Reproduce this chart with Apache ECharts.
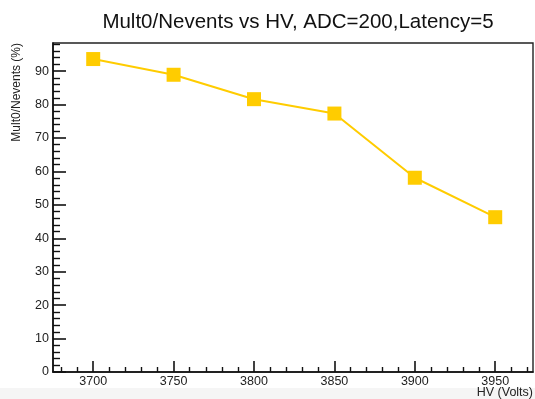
<!DOCTYPE html>
<html>
<head>
<meta charset="utf-8">
<title>Mult0/Nevents vs HV</title>
<script src="https://cdn.jsdelivr.net/npm/echarts@6/dist/echarts.min.js"></script>
<style>
  html, body { margin: 0; padding: 0; background: #ffffff; }
  #chart { width: 535px; height: 399px; }
</style>
</head>
<body>
<div id="chart"></div>
<script>
// High-voltage scan points and the measured fraction of events with zero multiplicity
const hvValues = [3700, 3750, 3800, 3850, 3900, 3950];
const mult0Percent = [93.6, 88.9, 81.6, 77.3, 58.1, 46.3];

// Axis tick positions
const hvMajorTicks = [3700, 3750, 3800, 3850, 3900, 3950];
const hvMinorTicks = [3680, 3690, 3710, 3720, 3730, 3740, 3760, 3770, 3780, 3790,
                      3810, 3820, 3830, 3840, 3860, 3870, 3880, 3890, 3910, 3920,
                      3930, 3940, 3960, 3970];
const pctMajorTicks = [0, 10, 20, 30, 40, 50, 60, 70, 80, 90];
const pctMinorTicks = [2, 4, 6, 8, 12, 14, 16, 18, 22, 24, 26, 28, 32, 34, 36, 38,
                       42, 44, 46, 48, 52, 54, 56, 58, 62, 64, 66, 68, 72, 74, 76, 78,
                       82, 84, 86, 88, 92, 94, 96, 98];

const FONT = '"Liberation Sans", Helvetica, Arial, sans-serif';
const X_MIN = 3675, X_MAX = 3973.5;
const Y_MIN = 0, Y_MAX = 98.4;

const chart = echarts.init(document.getElementById('chart'), null, { renderer: 'canvas' });

const axisFrame = { lineStyle: { color: '#111', width: 1.6 } };

chart.setOption({
  animation: false,
  backgroundColor: '#ffffff',
  title: {
    text: 'Mult0/Nevents vs HV, ADC=200,Latency=5',
    left: 293,
    top: 7,
    textAlign: 'center',
    textStyle: { fontFamily: FONT, fontSize: 20.5, fontWeight: 'normal', color: '#111' }
  },
  graphic: [
    {
      type: 'rect',
      left: 0, top: 388,
      shape: { width: 535, height: 11 },
      style: { fill: '#f5f5f5' },
      z: -10
    },
    {
      type: 'text',
      x: 533, y: 393,
      style: {
        text: 'HV (Volts)', font: '12.5px ' + FONT, fill: '#222',
        align: 'right', verticalAlign: 'middle'
      }
    },
    {
      type: 'text',
      x: 17, y: 43,
      rotation: Math.PI / 2,
      style: {
        text: 'Mult0/Nevents (%)', font: '12px ' + FONT, fill: '#222',
        align: 'right', verticalAlign: 'middle'
      }
    }
  ],
  grid: {
    left: 53, right: 2, top: 43, bottom: 27,
    outerBoundsMode: 'none',
    containLabel: false,
    show: true,
    borderColor: '#222',
    borderWidth: 1.4,
    backgroundColor: 'transparent'
  },
  xAxis: [
    {
      type: 'value',
      min: X_MIN, max: X_MAX,
      position: 'bottom',
      axisLine: axisFrame,
      splitLine: { show: false },
      axisTick: {
        inside: true, length: 11,
        customValues: hvMajorTicks,
        lineStyle: { color: '#111', width: 1.6 }
      },
      axisLabel: {
        customValues: hvMajorTicks,
        formatter: v => String(v),
        margin: 3,
        fontFamily: FONT, fontSize: 12.5, color: '#222'
      }
    },
    {
      type: 'value',
      min: X_MIN, max: X_MAX,
      position: 'bottom',
      axisLine: { show: false },
      splitLine: { show: false },
      axisTick: {
        inside: true, length: 5,
        customValues: hvMinorTicks,
        lineStyle: { color: '#111', width: 1.4 }
      },
      axisLabel: { show: false }
    }
  ],
  yAxis: [
    {
      type: 'value',
      min: Y_MIN, max: Y_MAX,
      position: 'left',
      axisLine: axisFrame,
      splitLine: { show: false },
      axisTick: {
        inside: true, length: 13,
        customValues: pctMajorTicks,
        lineStyle: { color: '#111', width: 1.6 }
      },
      axisLabel: {
        customValues: pctMajorTicks,
        formatter: v => String(v),
        margin: 4,
        fontFamily: FONT, fontSize: 12.5, color: '#222'
      }
    },
    {
      type: 'value',
      min: Y_MIN, max: Y_MAX,
      position: 'left',
      axisLine: { show: false },
      splitLine: { show: false },
      axisTick: {
        inside: true, length: 7,
        customValues: pctMinorTicks,
        lineStyle: { color: '#111', width: 1.4 }
      },
      axisLabel: { show: false }
    }
  ],
  series: [
    {
      type: 'line',
      xAxisIndex: 0,
      yAxisIndex: 0,
      data: hvValues.map((hv, i) => [hv, mult0Percent[i]]),
      symbol: 'rect',
      symbolSize: 14,
      showAllSymbol: true,
      lineStyle: { color: '#ffcc00', width: 2 },
      itemStyle: { color: '#ffcc00', borderWidth: 0 },
      emphasis: { disabled: true },
      z: 5
    }
  ]
});
</script>
</body>
</html>
